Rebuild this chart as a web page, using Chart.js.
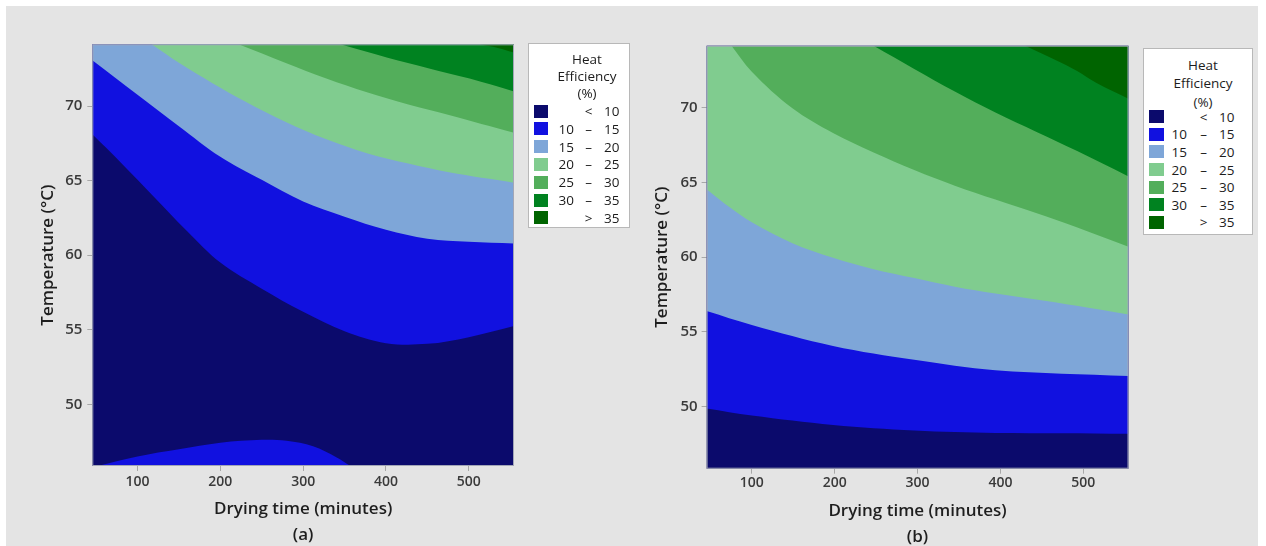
<!DOCTYPE html>
<html>
<head>
<meta charset="utf-8">
<script src="https://cdn.jsdelivr.net/npm/chart.js@4.4.1/dist/chart.umd.min.js"></script>
<style>
  html, body { margin: 0; padding: 0; background: #ffffff; }
  #page { position: relative; width: 1266px; height: 546px; overflow: hidden; background: #ffffff;
          font-family: "Open Sans", "Noto Sans", sans-serif; }
  #bg { position: absolute; left: 6px; top: 6px; width: 1252px; height: 540px; background: #e4e4e4; }
  canvas { position: absolute; top: 0; }
  .legend { position: absolute; background: #ffffff; border: 1px solid #b8b8b8; box-sizing: border-box;
            color: #1c1c1c; font-size: 13.5px; }
  .legend div, .legend span { position: absolute; white-space: nowrap; line-height: 18px; height: 18px; }
  .legend .sw { height: 13px; width: 14px; }
</style>
</head>
<body>
<div id="page">
  <div id="bg"></div>
  <canvas id="chartA" width="630" height="546" style="left:0px"></canvas>
  <canvas id="chartB" width="636" height="546" style="left:630px"></canvas>
  <div class="legend" id="legendA"></div>
  <div class="legend" id="legendB"></div>
</div>
<script>
// Axis ranges: drying time (minutes) and temperature (°C)
const timeRange = [45.44, 554.56];
const tempRange = [45.86, 74.14];
const timeTicks = [100, 200, 300, 400, 500];
const tempTicks = [50, 55, 60, 65, 70];

// Heat efficiency classes (%)
const legendTitle = ['Heat', 'Efficiency', '(%)'];
const legendFrom = ['', '10', '15', '20', '25', '30', ''];
const legendSign = ['<', '–', '–', '–', '–', '–', '>'];
const legendTo = ['10', '15', '20', '25', '30', '35', '35'];
const bandColors = ['#0b0a6c', '#1111e0', '#7ea6d8', '#80cc8f', '#53ae5b', '#008220', '#006400'];

// Panel (a): contour lines (time, temperature) for each efficiency level
const a10Time = [45.44, 80, 120, 160, 200, 250, 300, 350, 400, 450, 500, 554.56];
const a10Temp = [68.1, 66.2, 63.9, 61.6, 59.5, 57.75, 56.2, 54.9, 54.1, 54.05, 54.5, 55.25];
const a10LowTime = [52, 100, 150, 200, 250, 280, 312, 340, 357];
const a10LowTemp = [45.86, 46.5, 46.98, 47.42, 47.62, 47.55, 47.18, 46.45, 45.86];
const a15Time = [45.44, 100, 150, 200, 250, 300, 350, 400, 450, 500, 554.56];
const a15Temp = [73.07, 70.75, 68.65, 66.6, 65.05, 63.6, 62.58, 61.7, 61.1, 60.9, 60.78];
const a20Time = [117, 150, 190, 230, 279, 328, 377, 427, 476, 554.56];
const a20Temp = [74.14, 72.9, 71.55, 70.3, 68.93, 67.77, 66.84, 66.14, 65.56, 64.86];
const a25Time = [222, 279, 328, 377, 427, 476, 554.56];
const a25Temp = [74.14, 72.89, 71.84, 70.92, 70.1, 69.4, 68.2];
const a30Time = [345, 402, 451, 501, 554.56];
const a30Temp = [74.14, 73.24, 72.54, 71.84, 70.98];
const a35Time = [513, 535, 554.56];
const a35Temp = [74.14, 73.9, 73.59];

// Panel (b): contour lines (time, temperature) for each efficiency level
const b10Time = [45.44, 100, 198, 296, 394, 554.56];
const b10Temp = [49.88, 49.41, 48.78, 48.41, 48.25, 48.2];
const b15Time = [45.44, 100, 198, 296, 394, 554.56];
const b15Temp = [56.4, 55.47, 54.07, 53.14, 52.44, 52.05];
const b20Time = [45.44, 75, 100, 149, 198, 247, 296, 345, 394, 443, 492, 554.56];
const b20Temp = [64.55, 63.27, 62.34, 60.94, 59.96, 59.2, 58.61, 58.03, 57.57, 57.17, 56.75, 56.17];
const b25Time = [75.5, 100, 149, 198, 247, 296, 345, 394, 443, 492, 554.56];
const b25Temp = [74.14, 72.4, 69.95, 68.3, 67.0, 65.83, 64.78, 63.85, 62.95, 62.0, 60.7];
const b30Time = [247, 296, 345, 394, 443, 492, 554.56];
const b30Temp = [74.14, 72.59, 71.07, 69.67, 68.39, 67.11, 65.4];
const b35Time = [430, 467, 492, 516, 554.56];
const b35Temp = [74.14, 73.17, 72.47, 71.65, 70.6];

Chart.defaults.font.family = '"Open Sans", "Noto Sans", sans-serif';
Chart.defaults.color = '#333333';

function contour(times, temps, band, fillTo) {
  return {
    data: times.map((t, i) => ({ x: t, y: temps[i] })),
    backgroundColor: bandColors[band],
    borderWidth: 0,
    pointRadius: 0,
    fill: fillTo,
    tension: 0.35,
    order: 20 - band
  };
}

// Plot background (lowest class) and frame around the plot area
const plotFrame = {
  id: 'plotFrame',
  beforeDatasetsDraw(chart) {
    const { ctx, chartArea: a } = chart;
    ctx.save();
    ctx.fillStyle = bandColors[0];
    ctx.fillRect(a.left, a.top, a.right - a.left, a.bottom - a.top);
    ctx.restore();
  },
  afterDatasetsDraw(chart) {
    const { ctx, chartArea: a } = chart;
    ctx.save();
    ctx.strokeStyle = '#a2a6b6';
    ctx.lineWidth = 1;
    ctx.strokeRect(a.left + 0.5, a.top + 0.5, a.right - a.left - 1, a.bottom - a.top - 1);
    ctx.restore();
  }
};

function makeChart(id, datasets, g) {
  return new Chart(document.getElementById(id), {
    type: 'line',
    data: { datasets },
    plugins: [plotFrame],
    options: {
      responsive: false,
      animation: false,
      devicePixelRatio: 1,
      layout: { padding: { left: 0, top: g.top, right: g.right, bottom: 0 } },
      plugins: { legend: { display: false }, tooltip: { enabled: false } },
      scales: {
        x: {
          type: 'linear',
          min: timeRange[0], max: timeRange[1],
          afterBuildTicks: s => { s.ticks = timeTicks.map(v => ({ value: v })); },
          afterFit: s => { s.height = g.xHeight; },
          grid: { drawOnChartArea: false, drawTicks: true, tickLength: 5, color: '#a8a8a8' },
          border: { display: false },
          ticks: { padding: g.xTickPad, font: { size: 14, weight: '600' }, color: '#3a3a3a' },
          title: { display: true, text: ['Drying time (minutes)', g.letter],
                   font: { size: 17, weight: '600', lineHeight: 1.53 }, color: '#1e1e1e',
                   padding: { top: 0, bottom: g.xTitlePad } }
        },
        y: {
          type: 'linear',
          min: tempRange[0], max: tempRange[1],
          afterBuildTicks: s => { s.ticks = tempTicks.map(v => ({ value: v })); },
          afterFit: s => { s.width = g.yWidth; },
          grid: { drawOnChartArea: false, drawTicks: true, tickLength: 5, color: '#a8a8a8' },
          border: { display: false },
          ticks: { padding: g.yTickPad, font: { size: 15, weight: '600' }, color: '#3a3a3a' },
          title: { display: true, text: 'Temperature (°C)',
                   font: { size: 17, weight: '600' }, color: '#1e1e1e',
                   padding: { top: g.yTitlePad, bottom: 0 } }
        }
      }
    }
  });
}

makeChart('chartA', [
  contour(a10Time, a10Temp, 1, 'end'),
  contour(a10LowTime, a10LowTemp, 1, 'start'),
  contour(a15Time, a15Temp, 2, 'end'),
  contour(a20Time, a20Temp, 3, 'end'),
  contour(a25Time, a25Temp, 4, 'end'),
  contour(a30Time, a30Temp, 5, 'end'),
  contour(a35Time, a35Temp, 6, 'end')
], { letter: '(a)', top: 44.3, right: 116, xHeight: 80, yWidth: 92.3,
     xTickPad: 3, yTickPad: 5, xTitlePad: -2.5, yTitlePad: 37.8 });

makeChart('chartB', [
  contour(b10Time, b10Temp, 1, 'end'),
  contour(b15Time, b15Temp, 2, 'end'),
  contour(b20Time, b20Temp, 3, 'end'),
  contour(b25Time, b25Temp, 4, 'end'),
  contour(b30Time, b30Temp, 5, 'end'),
  contour(b35Time, b35Temp, 6, 'end')
], { letter: '(b)', top: 45.7, right: 137.5, xHeight: 77.3, yWidth: 76.6,
     xTickPad: 1, yTickPad: 4, xTitlePad: -4, yTitlePad: 21.5 });

// Legend boxes listing the efficiency classes
function buildLegend(id, box) {
  const el = document.getElementById(id);
  Object.assign(el.style, { left: box.left + 'px', top: box.top + 'px',
                            width: box.w + 'px', height: box.h + 'px' });
  legendTitle.forEach((t, i) => {
    const d = document.createElement('div');
    d.textContent = t;
    Object.assign(d.style, { left: (box.titleX - 50) + 'px', width: '100px', textAlign: 'center',
                             top: (box.titleY[i] - 9) + 'px' });
    el.appendChild(d);
  });
  legendTo.forEach((t, i) => {
    const cy = box.rowY + i * box.rowStep;
    const sw = document.createElement('div');
    sw.className = 'sw';
    Object.assign(sw.style, { left: box.swX + 'px', top: (cy - 6.5) + 'px', width: box.swW + 'px',
                              background: bandColors[i] });
    el.appendChild(sw);
    const cols = [[legendFrom[i], box.fromR, 'right'], [legendSign[i], box.signC, 'center'],
                  [t, box.toR, 'right']];
    cols.forEach(([txt, xPos, align]) => {
      const s = document.createElement('span');
      s.textContent = txt;
      const w = 30;
      const left = align === 'right' ? xPos - w : xPos - w / 2;
      Object.assign(s.style, { left: left + 'px', width: w + 'px', textAlign: align,
                               top: (cy - 9) + 'px' });
      el.appendChild(s);
    });
  });
}

buildLegend('legendA', { left: 528, top: 43, w: 102, h: 185, titleX: 58, titleY: [15.3, 32, 49.3],
  rowY: 67, rowStep: 17.8, swX: 5, swW: 14, fromR: 45, signC: 59.5, toR: 90.5 });
buildLegend('legendB', { left: 1143, top: 48, w: 110, h: 187, titleX: 59, titleY: [16, 34, 52.7],
  rowY: 67.7, rowStep: 17.6, swX: 4.5, swW: 15, fromR: 43, signC: 59.5, toR: 90.5 });
</script>
</body>
</html>
